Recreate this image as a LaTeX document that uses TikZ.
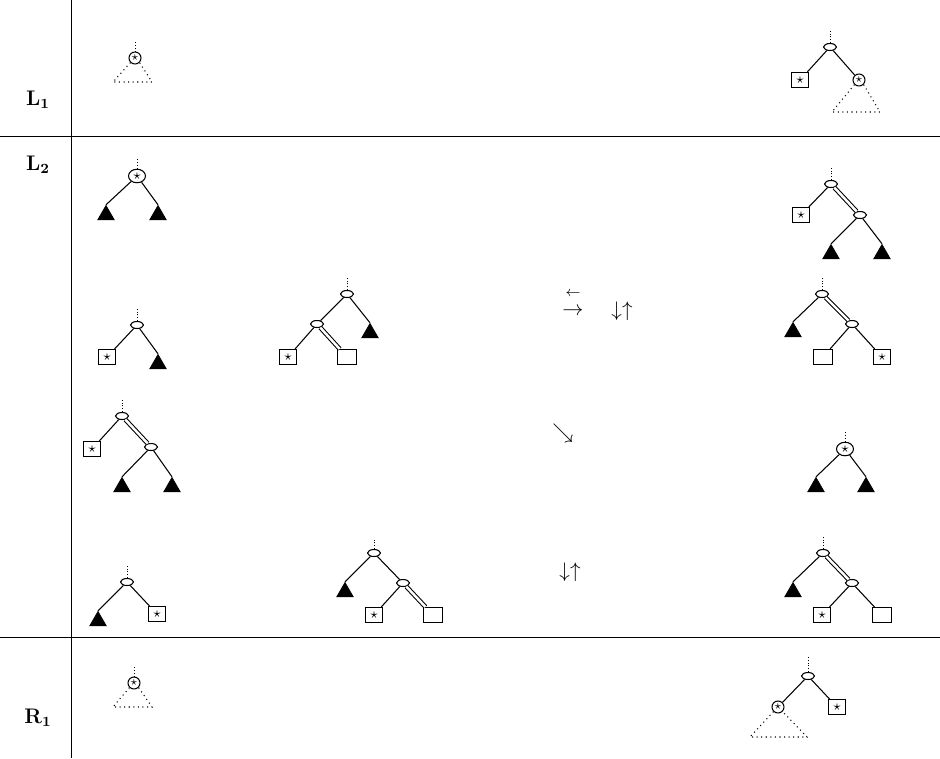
\documentclass[tikz,border=0pt]{standalone}
\usepackage{amsmath,amssymb}
\usepackage{tikz}
\usetikzlibrary{shapes.geometric, positioning, calc}
\tikzset{
  joint/.style={
    ellipse, draw, semithick, fill=white, inner sep=0pt,
    minimum width=0.26cm, minimum height=0.14cm
  },
  starleaf/.style={
    draw, semithick, inner sep=0pt, fill=white,
    minimum width=0.34cm, minimum height=0.3cm, font=\footnotesize
  },
  boxleaf/.style={
    draw, semithick, inner sep=0pt, fill=white,
    minimum width=0.38cm, minimum height=0.3cm
  },
  pivot/.style={
    circle, draw, semithick, inner sep=0pt,
    minimum size=0.24cm, font=\scriptsize
  },
  bigpivot/.style={
    ellipse, draw, semithick, inner sep=0pt,
    minimum width=0.34cm, minimum height=0.27cm, font=\footnotesize
  },
  blob/.style={
    regular polygon, regular polygon sides=3, draw, fill=black,
    inner sep=0pt, minimum size=0.38cm
  },
  branch/.style={semithick},
  heavy/.style={semithick, double, double distance=1.4pt},
  stem/.style={dash pattern=on 0.5pt off 1.1pt, thin},
  subtree/.style={dotted, semithick},
  rowlabel/.style={font=\large},
  moves/.style={font=\large, inner sep=0pt},
  gridline/.style={thin},
}

\begin{document}
% units are pixels of the sketch, y grows downwards
\begin{tikzpicture}[x=0.02cm, y=-0.02cm]
  \useasboundingbox (0,0) rectangle (940,758);

  % Table rules
  \draw[gridline] (71,0) -- (71,758);
  \draw[gridline] (0,136) -- (940,136);
  \draw[gridline] (0,637) -- (940,637);

  % Row labels
  \node[rowlabel] (lone) at (38,100) {$\mathbf{L_1}$};
  \node[rowlabel] (ltwo) at (38,165) {$\mathbf{L_2}$};
  \node[rowlabel] (rone) at (38,718) {$\mathbf{R_1}$};

  % L1, left
  \node[pivot] (pa) at (135,58) {$\star$};
  \draw[stem] (pa.north) -- ++(0,-9);
  \coordinate (pabl) at (113,82);
  \coordinate (pabr) at (152,82);
  \draw[subtree] (pa.south west) -- (pabl) -- (pabr) -- (pa.south east);

  % L1, right
  \node[joint] (ja) at (830,47) {};
  \draw[stem] (ja.north) -- ++(0,-14);
  \node[starleaf] (sa) at (800,80) {$\star$};
  \node[pivot] (pb) at (859,80) {$\star$};
  \draw[branch] (ja) -- (sa);
  \draw[branch] (ja) -- (pb);
  \coordinate (pbbl) at (832,112);
  \coordinate (pbbr) at (880,112);
  \draw[subtree] (pb.south west) -- (pbbl) -- (pbbr) -- (pb.south east);

  % L2, first line
  \node[bigpivot] (pc) at (137,176) {$\star$};
  \draw[stem] (pc.north) -- ++(0,-11);
  \node[blob] (ta) at (106,215) {};
  \node[blob] (tb) at (158,215) {};
  \draw[branch] (pc) -- (ta.corner 1);
  \draw[branch] (pc) -- (tb.corner 1);

  \node[joint] (jb) at (831,184) {};
  \draw[stem] (jb.north) -- ++(0,-14);
  \node[starleaf] (sb) at (801,215) {$\star$};
  \node[joint] (jc) at (860,215) {};
  \node[blob] (tc) at (831,254) {};
  \node[blob] (td) at (882,254) {};
  \draw[branch] (jb) -- (sb);
  \draw[heavy] (jb) -- (jc);
  \draw[branch] (jc) -- (tc.corner 1);
  \draw[branch] (jc) -- (td.corner 1);

  % L2, second line
  \node[joint] (jd) at (137,325) {};
  \draw[stem] (jd.north) -- ++(0,-14);
  \node[starleaf] (sc) at (107,357) {$\star$};
  \node[blob] (te) at (158,364) {};
  \draw[branch] (jd) -- (sc);
  \draw[branch] (jd) -- (te.corner 1);

  \node[joint] (je) at (347,294) {};
  \draw[stem] (je.north) -- ++(0,-13);
  \node[joint] (jf) at (317,324) {};
  \node[blob] (tf) at (370,333) {};
  \node[starleaf] (sd) at (288,357) {$\star$};
  \node[boxleaf] (ba) at (347,357) {};
  \draw[branch] (je) -- (jf);
  \draw[branch] (je) -- (tf.corner 1);
  \draw[branch] (jf) -- (sd);
  \draw[heavy] (jf) -- (ba);

  \node[moves] (swapl) at (573,294) {$\scriptstyle\leftarrow$};
  \node[moves] (swapr) at (573,312) {$\rightarrow$};
  \node[moves] (flipa) at (622,311) {$\downarrow\uparrow$};

  \node[joint] (jg) at (822,294) {};
  \draw[stem] (jg.north) -- ++(0,-13);
  \node[blob] (tg) at (793,332) {};
  \node[joint] (jh) at (852,324) {};
  \node[boxleaf] (bb) at (823,357) {};
  \node[starleaf] (se) at (882,357) {$\star$};
  \draw[branch] (jg) -- (tg.corner 1);
  \draw[heavy] (jg) -- (jh);
  \draw[branch] (jh) -- (bb);
  \draw[branch] (jh) -- (se);

  % L2, third line
  \node[joint] (ji) at (122,416) {};
  \draw[stem] (ji.north) -- ++(0,-14);
  \node[starleaf] (sf) at (92,449) {$\star$};
  \node[joint] (jj) at (151,447) {};
  \node[blob] (th) at (122,487) {};
  \node[blob] (ti) at (172,487) {};
  \draw[branch] (ji) -- (sf);
  \draw[heavy] (ji) -- (jj);
  \draw[branch] (jj) -- (th.corner 1);
  \draw[branch] (jj) -- (ti.corner 1);

  \node[moves] (slant) at (563,433) {$\searrow$};

  \node[bigpivot] (pd) at (845,449) {$\star$};
  \draw[stem] (pd.north) -- ++(0,-11);
  \node[blob] (tj) at (816,487) {};
  \node[blob] (tk) at (866,487) {};
  \draw[branch] (pd) -- (tj.corner 1);
  \draw[branch] (pd) -- (tk.corner 1);

  % L2, fourth line
  \node[joint] (jk) at (127,582) {};
  \draw[stem] (jk.north) -- ++(0,-13);
  \node[blob] (tl) at (98,621) {};
  \node[starleaf] (sg) at (157,614) {$\star$};
  \draw[branch] (jk) -- (tl.corner 1);
  \draw[branch] (jk) -- (sg);

  \node[joint] (jl) at (374,553) {};
  \draw[stem] (jl.north) -- ++(0,-11);
  \node[blob] (tm) at (345,592) {};
  \node[joint] (jm) at (403,583) {};
  \node[starleaf] (sh) at (374,615) {$\star$};
  \node[boxleaf] (bc) at (433,615) {};
  \draw[branch] (jl) -- (tm.corner 1);
  \draw[branch] (jl) -- (jm);
  \draw[branch] (jm) -- (sh);
  \draw[heavy] (jm) -- (bc);

  \node[moves] (flipb) at (570,572) {$\downarrow\uparrow$};

  \node[joint] (jn) at (823,553) {};
  \draw[stem] (jn.north) -- ++(0,-14);
  \node[blob] (tn) at (793,592) {};
  \node[joint] (jo) at (852,583) {};
  \node[starleaf] (si) at (822,615) {$\star$};
  \node[boxleaf] (bd) at (882,615) {};
  \draw[branch] (jn) -- (tn.corner 1);
  \draw[heavy] (jn) -- (jo);
  \draw[branch] (jo) -- (si);
  \draw[branch] (jo) -- (bd);

  % R1, left
  \node[pivot] (pe) at (134,683) {$\star$};
  \draw[stem] (pe.north) -- ++(0,-9);
  \coordinate (pebl) at (113,707);
  \coordinate (pebr) at (152,707);
  \draw[subtree] (pe.south west) -- (pebl) -- (pebr) -- (pe.south east);

  % R1, right
  \node[joint] (jp) at (808,676) {};
  \draw[stem] (jp.north) -- ++(0,-15);
  \node[pivot] (pf) at (778,707) {$\star$};
  \node[starleaf] (sj) at (837,707) {$\star$};
  \draw[branch] (jp) -- (pf);
  \draw[branch] (jp) -- (sj);
  \coordinate (pfbl) at (750,737);
  \coordinate (pfbr) at (807,737);
  \draw[subtree] (pf.south west) -- (pfbl) -- (pfbr) -- (pf.south east);
\end{tikzpicture}
\end{document}
